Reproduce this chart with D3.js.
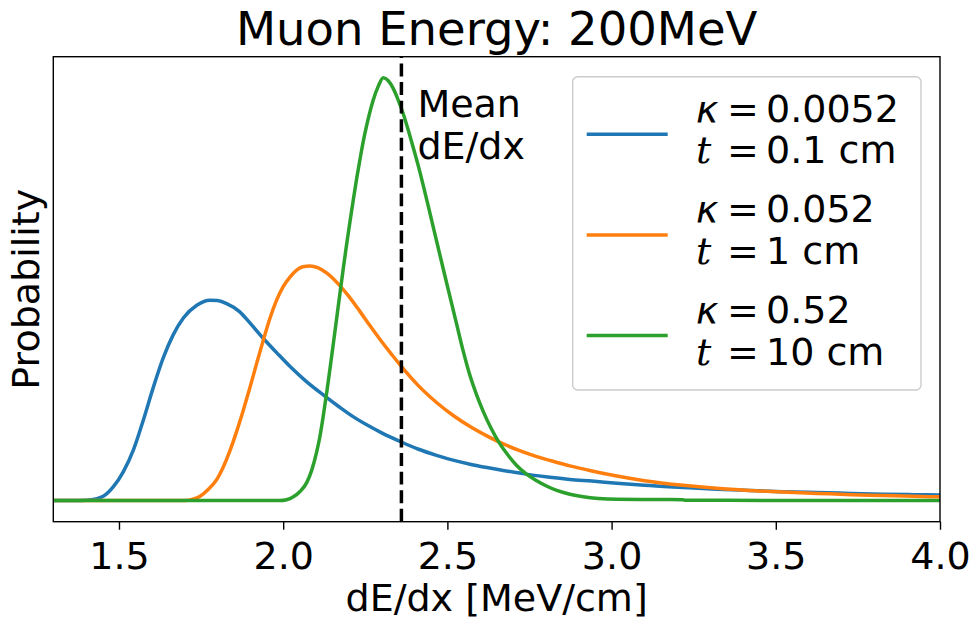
<!DOCTYPE html>
<html>
<head>
<meta charset="utf-8">
<script src="https://cdn.jsdelivr.net/npm/d3@7/dist/d3.min.js"></script>
<style>
  html, body { margin: 0; padding: 0; background: #fff; }
  svg { display: block; }
  text { font-family: "DejaVu Sans", sans-serif; fill: #000; }
</style>
</head>
<body>
<svg id="chart" width="973" height="620"></svg>
<script>
// Energy-loss distributions for a 200 MeV muon at three absorber thicknesses.
const seriesNames = ["0.1 cm", "1 cm", "10 cm"];
const kappaLabels = ["0.0052", "0.052", "0.52"];
const thickLabels = ["0.1 cm", "1 cm", "10 cm"];
const seriesColors = ["#1f77b4", "#ff7f0e", "#2ca02c"];

const blueX = [1.30, 1.40, 1.43, 1.452, 1.483, 1.513, 1.544, 1.574, 1.605, 1.635, 1.665, 1.696, 1.737, 1.777, 1.800, 1.828, 1.867, 1.900, 1.939, 1.980, 2.021, 2.070, 2.122, 2.170, 2.214, 2.264, 2.300, 2.361, 2.410, 2.467, 2.520, 2.569, 2.620, 2.670, 2.720, 2.772, 2.812, 2.873, 2.940, 3.016, 3.100, 3.218, 3.320, 3.421, 3.520, 3.625, 3.730, 3.827, 3.920, 4.00];
const blueY = [0, 0.001, 0.004, 0.010, 0.033, 0.068, 0.120, 0.190, 0.269, 0.338, 0.392, 0.432, 0.462, 0.474, 0.473, 0.466, 0.447, 0.419, 0.384, 0.350, 0.317, 0.282, 0.250, 0.222, 0.198, 0.175, 0.160, 0.138, 0.122, 0.107, 0.095, 0.086, 0.078, 0.071, 0.065, 0.059, 0.055, 0.050, 0.046, 0.041, 0.036, 0.031, 0.027, 0.024, 0.021, 0.019, 0.017, 0.015, 0.014, 0.013];

const orangeX = [1.30, 1.70, 1.725, 1.747, 1.770, 1.798, 1.818, 1.838, 1.858, 1.879, 1.899, 1.919, 1.940, 1.960, 1.980, 2.000, 2.020, 2.041, 2.060, 2.082, 2.105, 2.133, 2.173, 2.200, 2.234, 2.264, 2.295, 2.330, 2.361, 2.410, 2.467, 2.520, 2.569, 2.620, 2.670, 2.720, 2.772, 2.812, 2.873, 2.940, 3.016, 3.100, 3.218, 3.320, 3.421, 3.520, 3.625, 3.730, 3.827, 3.920, 4.00];
const orangeY = [0, 0, 0.003, 0.010, 0.025, 0.050, 0.080, 0.118, 0.163, 0.215, 0.268, 0.324, 0.381, 0.432, 0.474, 0.506, 0.528, 0.545, 0.553, 0.555, 0.551, 0.538, 0.508, 0.483, 0.447, 0.414, 0.381, 0.346, 0.316, 0.273, 0.232, 0.200, 0.175, 0.153, 0.134, 0.118, 0.104, 0.095, 0.082, 0.070, 0.058, 0.047, 0.036, 0.029, 0.024, 0.020, 0.017, 0.014, 0.012, 0.010, 0.009];

const greenX = [1.30, 1.99, 2.010, 2.031, 2.052, 2.072, 2.087, 2.102, 2.112, 2.122, 2.133, 2.143, 2.153, 2.163, 2.173, 2.183, 2.193, 2.204, 2.214, 2.224, 2.237, 2.249, 2.262, 2.274, 2.290, 2.305, 2.320, 2.335, 2.350, 2.366, 2.381, 2.396, 2.412, 2.427, 2.442, 2.457, 2.472, 2.488, 2.508, 2.528, 2.548, 2.569, 2.589, 2.609, 2.635, 2.660, 2.686, 2.711, 2.740, 2.772, 2.800, 2.833, 2.873, 2.914, 2.960, 3.016, 3.100, 3.218, 3.222, 3.500, 4.00];
const greenY = [0, 0, 0.002, 0.009, 0.022, 0.043, 0.072, 0.115, 0.152, 0.200, 0.258, 0.315, 0.373, 0.432, 0.491, 0.549, 0.605, 0.663, 0.714, 0.763, 0.821, 0.869, 0.913, 0.947, 0.981, 1.000, 0.993, 0.975, 0.948, 0.914, 0.876, 0.835, 0.790, 0.744, 0.696, 0.647, 0.598, 0.546, 0.482, 0.418, 0.354, 0.295, 0.250, 0.211, 0.168, 0.134, 0.106, 0.083, 0.063, 0.047, 0.035, 0.024, 0.015, 0.009, 0.005, 0.003, 0.0025, 0.002, 0.0008, 0.0004, 0];

const meanDEdx = 2.36;
const xTicks = [1.5, 2.0, 2.5, 3.0, 3.5, 4.0];
const xDomain = [1.3, 4.0];
const yDomain = [-0.05, 1.05];

const series = [
  { x: blueX, y: blueY },
  { x: orangeX, y: orangeY },
  { x: greenX, y: greenY }
].map((s, i) => ({
  name: seriesNames[i],
  kappa: kappaLabels[i],
  thick: thickLabels[i],
  color: seriesColors[i],
  points: s.x.map((v, j) => [v, s.y[j]])
}));

const svg = d3.select("#chart");
const plotL = 53.3, plotR = 940, plotT = 56.7, plotB = 521.7;

const x = d3.scaleLinear().domain(xDomain).range([plotL, plotR]);
const y = d3.scaleLinear().domain(yDomain).range([plotB, plotT]);

svg.append("defs").append("clipPath").attr("id", "plotClip")
  .append("rect").attr("x", plotL).attr("y", plotT)
  .attr("width", plotR - plotL).attr("height", plotB - plotT);

const plot = svg.append("g").attr("clip-path", "url(#plotClip)");

const line = d3.line()
  .x(d => x(d[0]))
  .y(d => y(d[1]))
  .curve(d3.curveMonotoneX);

plot.selectAll("path.dist")
  .data(series)
  .join("path")
  .attr("class", "dist")
  .attr("d", d => line(d.points))
  .attr("fill", "none")
  .attr("stroke", d => d.color)
  .attr("stroke-width", 3.5)
  .attr("stroke-linejoin", "round");

// Mean energy loss marker, dashes running upward from the x axis
plot.append("line")
  .attr("x1", x(meanDEdx)).attr("x2", x(meanDEdx))
  .attr("y1", plotB).attr("y2", plotT)
  .attr("stroke", "#000")
  .attr("stroke-width", 3.5)
  .attr("stroke-dasharray", "12.95,5.6");

svg.append("text")
  .attr("x", x(meanDEdx) + 16)
  .attr("y", 117)
  .attr("font-size", 38)
  .selectAll("tspan")
  .data(["Mean", "dE/dx"])
  .join("tspan")
  .attr("x", x(meanDEdx) + 16)
  .attr("dy", (d, i) => i === 0 ? 0 : 42)
  .text(d => d);

// X axis
const xAxis = d3.axisBottom(x)
  .tickValues(xTicks)
  .tickFormat(d3.format(".1f"))
  .tickSize(8)
  .tickSizeOuter(0);

const gx = svg.append("g")
  .attr("transform", `translate(0,${plotB})`)
  .call(xAxis);
gx.select(".domain").remove();
gx.selectAll(".tick line").attr("stroke", "#000").attr("stroke-width", 1.4);
gx.selectAll(".tick text")
  .attr("y", 47.5)
  .attr("dy", 0)
  .attr("font-size", 38)
  .attr("font-family", "DejaVu Sans")
  .attr("fill", "#000");

// Frame
svg.append("rect")
  .attr("x", plotL).attr("y", plotT)
  .attr("width", plotR - plotL).attr("height", plotB - plotT)
  .attr("fill", "none")
  .attr("stroke", "#000")
  .attr("stroke-width", 1.4);

// Titles
svg.append("text")
  .attr("x", (plotL + plotR) / 2)
  .attr("y", 45)
  .attr("text-anchor", "middle")
  .attr("font-size", 46.5)
  .text("Muon Energy: 200MeV");

svg.append("text")
  .attr("x", (plotL + plotR) / 2)
  .attr("y", 611)
  .attr("text-anchor", "middle")
  .attr("font-size", 38)
  .text("dE/dx [MeV/cm]");

svg.append("text")
  .attr("transform", `translate(39,${(plotT + plotB) / 2}) rotate(-90)`)
  .attr("text-anchor", "middle")
  .attr("font-size", 38)
  .text("Probability");

// Legend
const legend = svg.append("g");
legend.append("rect")
  .attr("x", 572.7).attr("y", 76.7)
  .attr("width", 348.3).attr("height", 313.3)
  .attr("rx", 5).attr("ry", 5)
  .attr("fill", "#fff").attr("fill-opacity", 0.8)
  .attr("stroke", "#cccccc").attr("stroke-width", 1.4);

const rowTop = 121.7, rowStep = 100.7;
const entry = legend.selectAll("g.entry")
  .data(series)
  .join("g")
  .attr("class", "entry")
  .attr("transform", (d, i) => `translate(0,${rowTop + i * rowStep})`);

entry.append("line")
  .attr("x1", 586.7).attr("x2", 667.7)
  .attr("y1", 12.5).attr("y2", 12.5)
  .attr("stroke", d => d.color)
  .attr("stroke-width", 3.5);

// first row: kappa
entry.append("text").attr("x", 696).attr("y", 0).attr("font-size", 38)
  .attr("font-style", "italic").text("κ");
entry.append("text").attr("x", 727).attr("y", 0).attr("font-size", 38).text("=");
entry.append("text").attr("x", 766).attr("y", 0).attr("font-size", 38).text(d => d.kappa);

// second row: thickness
entry.append("text").attr("x", 696).attr("y", 41.5).attr("font-size", 38)
  .style("font-family", "'DejaVu Serif', serif").attr("font-style", "italic").text("t");
entry.append("text").attr("x", 727).attr("y", 41.5).attr("font-size", 38).text("=");
entry.append("text").attr("x", 766).attr("y", 41.5).attr("font-size", 38).text(d => d.thick);
</script>
</body>
</html>
